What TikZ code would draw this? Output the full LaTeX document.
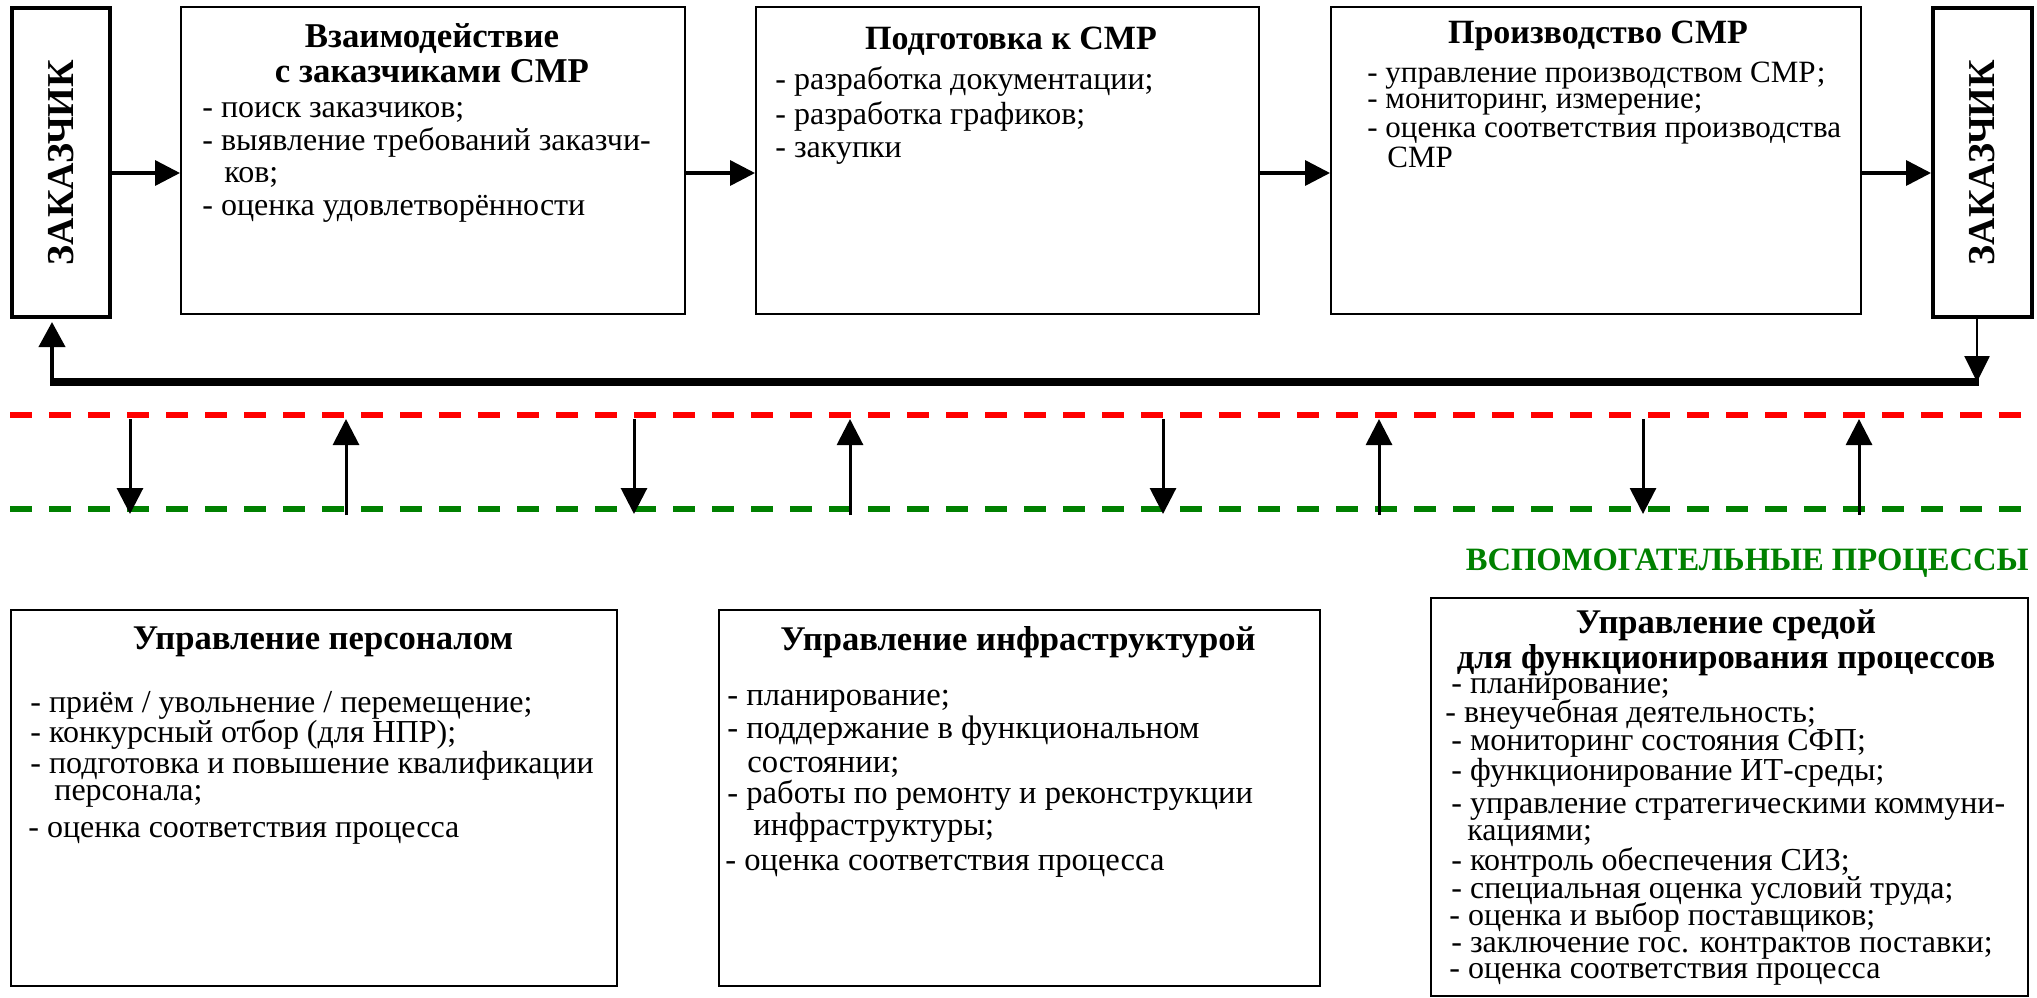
\documentclass[tikz,border=0pt]{standalone}
\usepackage{fontspec}
\setmainfont{Liberation Serif}
\usetikzlibrary{arrows.meta}
\definecolor{lnred}{RGB}{255,0,0}
\definecolor{lngreen}{RGB}{0,128,0}
\begin{document}
\begin{tikzpicture}[x=0.5pt,y=-0.5pt,
  procbox/.style={draw, line width=1pt, anchor=north west, inner sep=0pt},
  custbox/.style={draw, line width=2pt, anchor=north west, inner sep=0pt},
  body/.style={font=\fontsize{16.5}{18}\selectfont, inner sep=0pt, anchor=base west},
  bodys/.style={body, font=\fontsize{16}{18}\selectfont},
  bodyxs/.style={body, font=\fontsize{15.5}{18}\selectfont},
  head/.style={font=\bfseries\fontsize{17.3}{19}\selectfont, inner sep=0pt, anchor=base},
  custlabel/.style={font=\bfseries\fontsize{19}{21}\selectfont, rotate=90, inner sep=0pt},
  harrow/.style={line width=1.75pt, -{Triangle[length=12.5pt,width=12.5pt]}},
  varrow/.style={line width=1.5pt, -{Triangle[length=13pt,width=13pt]}},
  dashline/.style={line width=2.6pt, dash pattern=on 10.75pt off 8.75pt}
]
\useasboundingbox (0,0) rectangle (2037,997);

% ---------- top row ----------
\node[custbox, minimum width=49pt, minimum height=154.5pt] (zl) at (10,6) {};
\node[custlabel] (zltxt) at (zl.center) {ЗАКАЗЧИК};
\node[procbox, minimum width=252pt, minimum height=153.5pt] (b1) at (180,6) {};
\node[procbox, minimum width=251.5pt, minimum height=153.5pt] (b2) at (755,6) {};
\node[procbox, minimum width=265pt, minimum height=153.5pt] (b3) at (1330,6) {};
\node[custbox, minimum width=49.5pt, minimum height=154.5pt] (zr) at (1931,6) {};
\node[custlabel] (zrtxt) at (zr.center) {ЗАКАЗЧИК};

% box 1 text
\node[head, font=\bfseries\fontsize{17.4}{19}\selectfont] (h1a) at (432,47) {Взаимодействие};
\node[head, font=\bfseries\fontsize{17.4}{19}\selectfont] (h1b) at (432,82) {с заказчиками СМР};
\foreach \ly/\lx/\txt [count=\i] in {117/202/{- поиск заказчиков;},150/202/{- выявление требований заказчи-},182/224/{ков;},215/202/{- оценка удовлетворённости}}
  \node[bodys] (t1-\i) at (\lx,\ly) {\txt};

% box 2 text
\node[head, font=\bfseries\fontsize{17}{19}\selectfont] (h2) at (1011,49) {Подготовка к СМР};
\foreach \ly/\lx/\txt [count=\i] in {89/775/{- разработка документации;},124/775/{- разработка графиков;},157/775/{- закупки}}
  \node[bodys] (t2-\i) at (\lx,\ly) {\txt};

% box 3 text
\node[head, font=\bfseries\fontsize{17}{19}\selectfont] (h3) at (1598,43) {Производство СМР};
\foreach \ly/\lx/\txt [count=\i] in {82/1367/{- управление производством СМР;},108/1367/{- мониторинг, измерение;},137/1367/{- оценка соответствия производства},167/1387/{СМР}}
  \node[bodyxs] (t3-\i) at (\lx,\ly) {\txt};

% horizontal arrows
\coordinate (arow) at (0,173);
\draw[harrow] (zl.east |- arow) -- (b1.west |- arow);
\draw[harrow] (b1.east |- arow) -- (b2.west |- arow);
\draw[harrow] (b2.east |- arow) -- (b3.west |- arow);
\draw[harrow] (b3.east |- arow) -- (zr.west |- arow);

% feedback loop
\coordinate (fbL) at (52,382);
\coordinate (fbR) at (1977,382);
\draw[line width=3.6pt] ([xshift=-1pt]fbL) -- ([xshift=1pt]fbR);
\draw[line width=2pt, -{Triangle[length=12.5pt,width=13pt]}] (fbL) -- ([yshift=-1.5pt]fbL |- zl.south);
\draw[line width=1.25pt, -{Triangle[length=13pt,width=12.5pt]}] (zr.south -| fbR) -- (fbR);

% dashed lines
\coordinate (redL) at (10,415);
\coordinate (redR) at (2027,415);
\coordinate (grnL) at (10,509);
\coordinate (grnR) at (2027,509);
\draw[dashline, lnred] (redL) -- (redR);
\draw[dashline, lngreen] (grnL) -- (grnR);

% vertical arrows between the lines
\foreach \x [count=\i] in {130,634,1163,1643} {
  \coordinate (dt\i) at (\x,419);
  \coordinate (db\i) at (\x,514);
  \draw[varrow] (dt\i) -- (db\i);
}
\foreach \x [count=\i] in {346,850,1379,1859} {
  \coordinate (ub\i) at (\x,515);
  \coordinate (ut\i) at (\x,419);
  \draw[varrow] (ub\i) -- (ut\i);
}

\node[font=\bfseries\fontsize{16.3}{18}\selectfont, text=lngreen, inner sep=0pt, anchor=base east] (aux) at (2029,570) {ВСПОМОГАТЕЛЬНЫЕ ПРОЦЕССЫ};

% ---------- bottom row ----------
\node[procbox, line width=1.2pt, minimum width=303pt, minimum height=188pt] (ba) at (10,609) {};
\node[procbox, line width=1.2pt, minimum width=300.5pt, minimum height=188pt] (bb) at (718,609) {};
\node[procbox, line width=1.2pt, minimum width=298.5pt, minimum height=199pt] (bc) at (1430,597) {};

\node[head] (ha) at (323,649) {Управление персоналом};
\foreach \ly/\lx/\txt [count=\i] in {712/30/{- приём / увольнение / перемещение;},742/30/{- конкурсный отбор (для НПР);},773/30/{- подготовка и повышение квалификации},800/54/{персонала;},837/28/{- оценка соответствия процесса}}
  \node[bodys] (ta-\i) at (\lx,\ly) {\txt};

\node[head] (hb) at (1018,650) {Управление инфраструктурой};
\foreach \ly/\lx/\txt [count=\i] in {705/727/{- планирование;},738/727/{- поддержание в функциональном},772/747/{состоянии;},803/727/{- работы по ремонту и реконструкции},835/753/{инфраструктуры;},870/725/{- оценка соответствия процесса}}
  \node[body, font=\fontsize{16.3}{18}\selectfont] (tb-\i) at (\lx,\ly) {\txt};

\node[head] (hc1) at (1726,633) {Управление средой};
\node[head] (hc2) at (1726,668) {для функционирования процессов};
\foreach \ly/\lx/\txt [count=\i] in {693/1451/{- планирование;},722/1445/{- внеучебная деятельность;},750/1451/{- мониторинг состояния СФП;},780/1451/{- функционирование ИТ-среды;},813/1451/{- управление стратегическими коммуни-},840/1467/{кациями;},870/1451/{- контроль обеспечения СИЗ;},898/1451/{- специальная оценка условий труда;},925/1449/{- оценка и выбор поставщиков;},952/1451/{- заключение гос. контрактов поставки;},978/1449/{- оценка соответствия процесса}}
  \node[bodys] (tc-\i) at (\lx,\ly) {\txt};
\end{tikzpicture}
\end{document}
